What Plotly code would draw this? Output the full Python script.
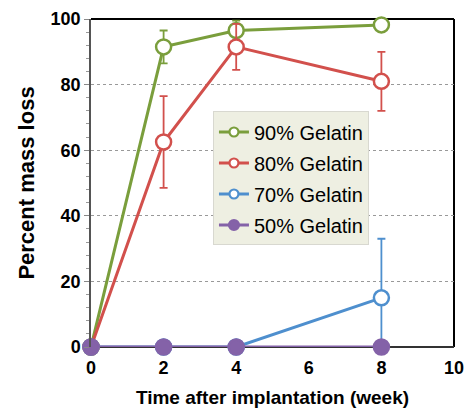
import plotly.graph_objects as go

weeks = [0, 2, 4, 8]
labels = ["90% Gelatin", "80% Gelatin", "70% Gelatin", "50% Gelatin"]
g90 = [0, 91.5, 96.5, 98.2]
g90_err = [0, 5, 3, 1]
g80 = [0, 62.5, 91.5, 81]
g80_err = [0, 14, 7, 9]
g70 = [0, 0, 0, 15]
g70_err_plus = [0, 0, 0, 18]
g70_err_minus = [0, 0, 0, 15]
g50 = [0, 0, 0, 0]
g50_err = [0, 0, 0, 0]

colors = ["#7A9E3C", "#D2504C", "#4E8FCE", "#8462A8"]

fig = go.Figure()

def add(y, eplus, eminus, name, color, filled):
    fig.add_trace(go.Scatter(
        x=weeks, y=y, name=name, mode="lines+markers", showlegend=False,
        line=dict(color=color, width=3),
        marker=dict(size=15, color=color if filled else "white",
                    line=dict(color=color, width=2.5), symbol="circle"),
        error_y=dict(type="data", array=eplus, arrayminus=eminus, symmetric=False,
                     color=color, thickness=1.8, width=4, visible=True),
        cliponaxis=False,
    ))

add(g90, g90_err, g90_err, labels[0], colors[0], False)
add(g80, g80_err, g80_err, labels[1], colors[1], False)
add(g70, g70_err_plus, g70_err_minus, labels[2], colors[2], False)
add(g50, g50_err, g50_err, labels[3], colors[3], True)

# legend entries (smaller symbols, as in the reference)
for i, (name, color) in enumerate(zip(labels, colors)):
    filled = i == 3
    fig.add_trace(go.Scatter(
        x=[None], y=[None], name=name, mode="lines+markers", legendgroup=name,
        line=dict(color=color, width=3),
        marker=dict(size=10 if filled else 9, color=color if filled else "white",
                    line=dict(color=color, width=2.2)),
    ))

fig.update_layout(
    width=466, height=409,
    margin=dict(l=91, r=12, t=19, b=62),
    paper_bgcolor="white", plot_bgcolor="white",
    font=dict(family="Liberation Sans, Arial, sans-serif", color="black"),
    showlegend=True,
    legend=dict(x=0.336, y=0.718, xanchor="left", yanchor="top",
                bgcolor="#EEEFE2", bordercolor="#D8D8D0", borderwidth=1,
                font=dict(size=20, family="Liberation Sans, Arial, sans-serif"),
                itemwidth=30, tracegroupgap=2),
    xaxis=dict(range=[0, 10], tickvals=[0, 2, 4, 6, 8, 10], showgrid=False,
               zeroline=False, showline=False, automargin=False,
               tickfont=dict(size=18, family="Liberation Sans, Arial", weight="bold"),
               ticks="", ticklen=0, ticklabelstandoff=8,
               title=dict(text="<b>Time after implantation (week)</b>", font=dict(size=19), standoff=13)),
    yaxis=dict(range=[0, 100], tickvals=[0, 20, 40, 60, 80, 100], showgrid=True,
               gridcolor="#999999", griddash="dot", gridwidth=1, automargin=False,
               zeroline=False, showline=True, linecolor="#555555", linewidth=1.5,
               ticks="outside", ticklen=5, tickcolor="#888888",
               minor=dict(tickvals=[i * 4 for i in range(26)], ticks="outside", ticklen=3, tickcolor="#999999"),
               tickfont=dict(size=18, family="Liberation Sans, Arial", weight="bold"),
               title=dict(text="<b>Percent mass loss</b>", font=dict(size=22), standoff=10)),
)

fig.add_shape(type="line", xref="paper", yref="paper", x0=0, x1=1, y0=1, y1=1,
              line=dict(color="black", width=2), layer="below")
fig.add_shape(type="line", xref="paper", yref="paper", x0=1, x1=1, y0=0, y1=1,
              line=dict(color="black", width=2), layer="below")
fig.add_shape(type="line", xref="paper", yref="paper", x0=0, x1=1, y0=0, y1=0,
              line=dict(color="#333333", width=2), layer="below")

fig.write_html("out.html")
